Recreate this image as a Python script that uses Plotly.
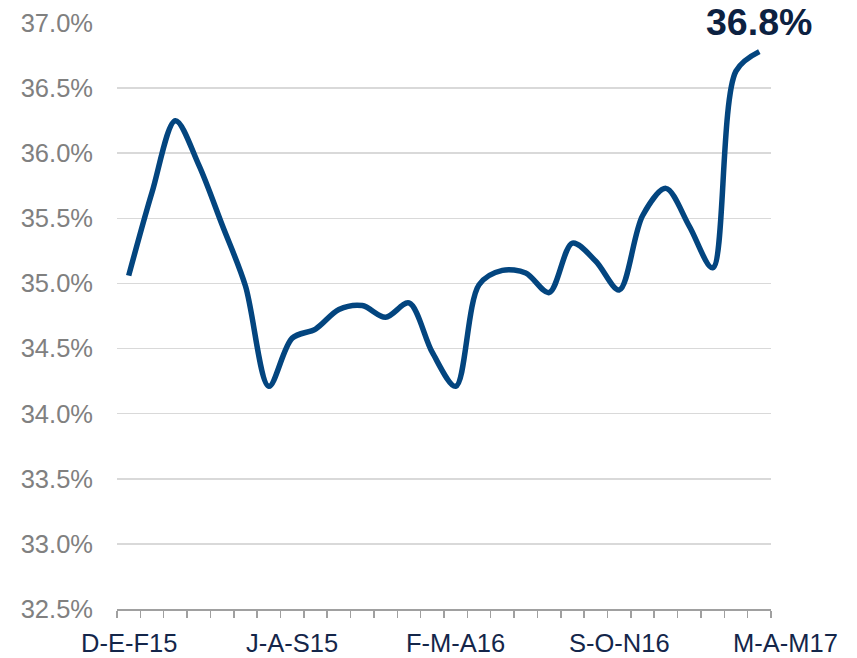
import plotly.graph_objects as go

periods = ["D-E-F15", "E-F-M15", "F-M-A15", "M-A-M15", "A-M-J15", "M-J-J15", "J-J-A15",
           "J-A-S15", "A-S-O15", "S-O-N15", "O-N-D15", "N-D-E16", "D-E-F16", "E-F-M16",
           "F-M-A16", "M-A-M16", "A-M-J16", "M-J-J16", "J-J-A16", "J-A-S16", "A-S-O16",
           "S-O-N16", "O-N-D16", "N-D-E17", "D-E-F17", "E-F-M17", "F-M-A17", "M-A-M17"]
values = [35.06, 35.70, 36.25, 35.91, 35.45, 34.98, 34.21,
          34.58, 34.65, 34.80, 34.83, 34.74, 34.85, 34.47,
          34.21, 34.99, 35.10, 35.08, 34.93, 35.31, 35.17,
          34.95, 35.52, 35.73, 35.44, 35.12, 36.63, 36.78]
label_idx = [0, 7, 14, 21, 27]
y_ticks = [32.5, 33.0, 33.5, 34.0, 34.5, 35.0, 35.5, 36.0, 36.5, 37.0]

x = list(range(len(values)))
font_family = "Liberation Sans, Arial, sans-serif"

fig = go.Figure()
fig.add_trace(go.Scatter(
    x=x, y=values, mode="lines",
    line=dict(color="#03457f", width=5.5, shape="spline", smoothing=0.9),
    hoverinfo="skip", showlegend=False,
))

annotations = []
for i in label_idx:
    annotations.append(dict(
        x=i, y=0, xref="x", yref="paper", text=periods[i], showarrow=False,
        xanchor="center", yanchor="middle", yshift=-34,
        xshift=26 if i == len(values) - 1 else 0,
        font=dict(family=font_family, size=25.5, color="#14264a"),
    ))
annotations.append(dict(
    x=x[-1], y=values[-1], xref="x", yref="y", text="<b>%.1f%%</b>" % values[-1],
    showarrow=False, xanchor="center", yanchor="middle", yshift=30,
    font=dict(family=font_family, size=37.5, color="#0c2141"),
))

fig.update_layout(
    width=857, height=658,
    margin=dict(l=116.7, r=86.3, t=23.3, b=48.5, pad=0),
    plot_bgcolor="white", paper_bgcolor="white",
    annotations=annotations,
    hovermode=False,
    xaxis=dict(
        range=[-0.5, len(values) - 0.5],
        tickmode="array",
        tickvals=[i - 0.5 for i in range(len(values) + 1)],
        ticktext=["" for _ in range(len(values) + 1)],
        ticks="outside", ticklen=7, tickwidth=1.5, tickcolor="#a0a0a0",
        showline=True, linecolor="#a0a0a0", linewidth=1.5,
        showgrid=False, zeroline=False, automargin=False,
    ),
    yaxis=dict(
        range=[32.5, 37.0],
        tickmode="array", tickvals=y_ticks,
        ticktext=["%.1f%%" % v for v in y_ticks],
        tickfont=dict(family=font_family, size=25.5, color="#808080"),
        showgrid=True, gridcolor="#d9d9d9", gridwidth=1.5,
        showline=False, zeroline=False, ticks="",
        ticklabelstandoff=23, automargin=False,
    ),
)

fig.write_html("out.html",
               config={"displayModeBar": False, "staticPlot": True},
               post_script="document.body.style.margin='0';document.body.style.overflow='hidden';")
